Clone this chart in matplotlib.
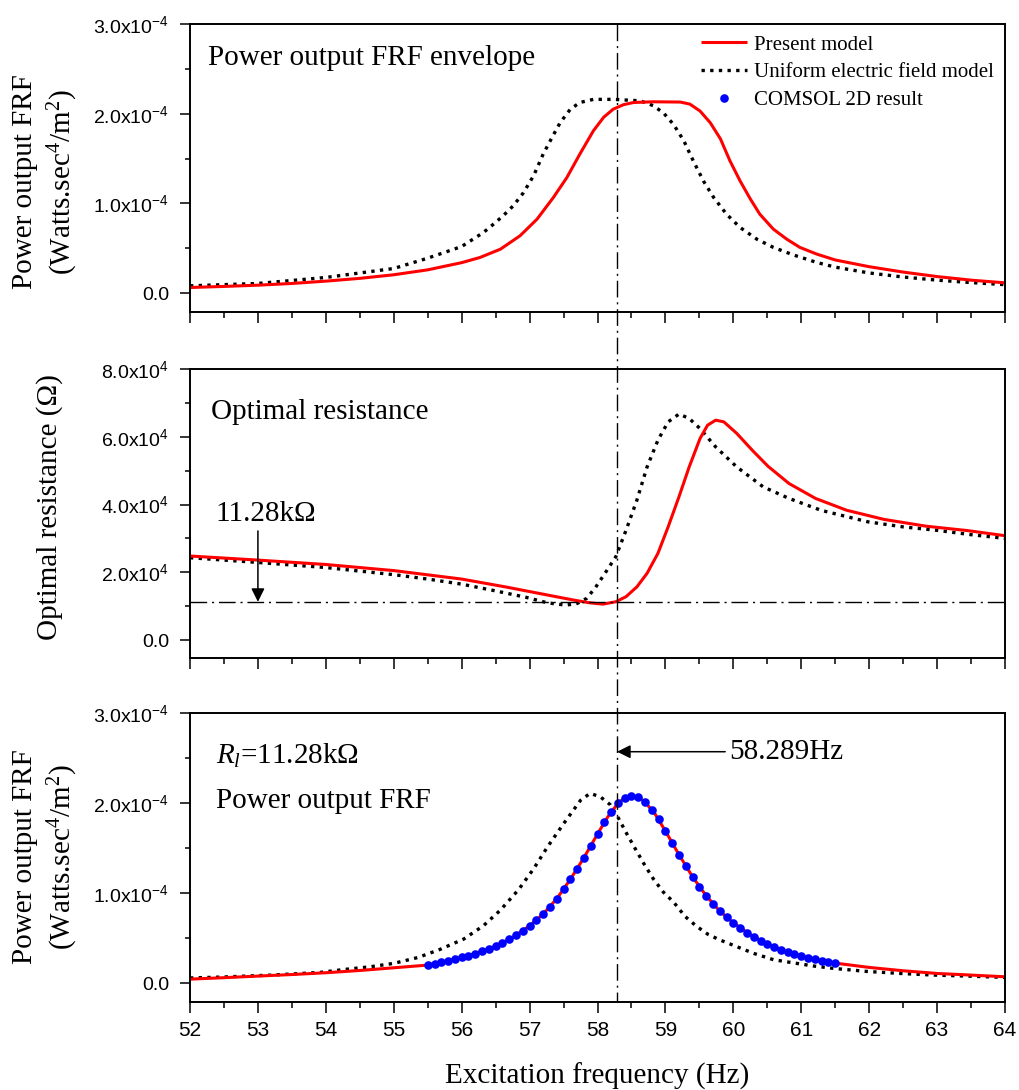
import matplotlib
matplotlib.use("Agg")
import matplotlib.pyplot as plt
import matplotlib.transforms as mtransforms
from matplotlib.lines import Line2D
from matplotlib.ticker import MultipleLocator, FuncFormatter
import numpy as np

plt.rcParams['font.family'] = ['Liberation Serif', 'DejaVu Serif']
plt.rcParams['mathtext.fontset'] = 'custom'
plt.rcParams['mathtext.rm'] = 'Liberation Serif'
plt.rcParams['mathtext.it'] = 'Liberation Serif:italic'
plt.rcParams['mathtext.default'] = 'regular'

# ---- data ----
# top: power output FRF envelope (x1e-4)
env_present_f = [52.0, 52.5, 53.0, 53.5, 54.0, 54.5, 55.0, 55.5, 56.0, 56.27, 56.57, 56.86,
                 57.11, 57.35, 57.55, 57.74, 57.94, 58.09, 58.23, 58.38, 58.53, 58.82, 59.22,
                 59.36, 59.51, 59.66, 59.81, 59.95, 60.1, 60.25, 60.39, 60.59, 60.79, 60.98,
                 61.23, 61.5, 62.0, 62.5, 63.0, 63.5, 64.0]
env_present_p = [0.063, 0.075, 0.089, 0.108, 0.134, 0.165, 0.205, 0.26, 0.34, 0.398, 0.49, 0.64,
                 0.825, 1.066, 1.29, 1.55, 1.81, 1.96, 2.05, 2.10, 2.125, 2.133, 2.13,
                 2.107, 2.03, 1.90, 1.72, 1.475, 1.25, 1.05, 0.88, 0.713, 0.60, 0.51,
                 0.435, 0.37, 0.295, 0.235, 0.185, 0.145, 0.115]
env_uniform_f = [52.0, 53.0, 54.0, 55.0, 55.5, 56.0, 56.32, 56.47, 56.61, 56.76, 56.91, 57.06,
                 57.2, 57.33, 57.45, 57.6, 57.74, 57.94, 58.23, 58.63, 58.82, 58.97, 59.12,
                 59.27, 59.41, 59.56, 59.71, 59.9, 60.1, 60.35, 60.59, 60.88, 61.23, 61.5,
                 62.0, 62.5, 63.0, 63.5, 64.0]
env_uniform_p = [0.082, 0.108, 0.175, 0.275, 0.39, 0.52, 0.676, 0.77, 0.862, 0.974, 1.12, 1.31,
                 1.55, 1.735, 1.90, 2.05, 2.125, 2.16, 2.16, 2.144, 2.09, 2.01, 1.88,
                 1.70, 1.475, 1.25, 1.067, 0.88, 0.732, 0.60, 0.51, 0.427, 0.342, 0.29,
                 0.225, 0.18, 0.145, 0.118, 0.095]

# middle: optimal resistance (x1e4 ohm)
ropt_present_f = [52.0, 53.0, 54.0, 55.0, 56.0, 56.64, 57.26, 57.65, 57.88, 58.08, 58.27, 58.42,
                  58.58, 58.73, 58.89, 59.04, 59.2, 59.35, 59.51, 59.62, 59.74, 59.86, 60.05,
                  60.28, 60.51, 60.82, 61.21, 61.67, 62.22, 62.84, 63.45, 64.0]
ropt_present_r = [2.48, 2.36, 2.23, 2.05, 1.80, 1.57, 1.33, 1.18, 1.10, 1.06, 1.13, 1.28,
                  1.57, 1.97, 2.56, 3.34, 4.23, 5.11, 5.95, 6.34, 6.49, 6.44, 6.10,
                  5.60, 5.13, 4.62, 4.18, 3.83, 3.56, 3.36, 3.23, 3.08]
ropt_uniform_f = [52.0, 53.0, 54.0, 55.0, 55.5, 56.0, 56.5, 56.95, 57.26, 57.53, 57.7, 57.84,
                  57.97, 58.11, 58.27, 58.42, 58.58, 58.73, 58.89, 59.04, 59.2, 59.35, 59.51,
                  59.74, 60.05, 60.44, 60.82, 61.29, 61.98, 62.5, 62.99, 63.5, 64.0]
ropt_uniform_r = [2.43, 2.29, 2.14, 1.93, 1.80, 1.65, 1.45, 1.26, 1.10, 1.03, 1.08, 1.23,
                  1.55, 1.97, 2.46, 3.24, 4.13, 5.11, 5.90, 6.44, 6.67, 6.54, 6.24,
                  5.70, 5.11, 4.52, 4.18, 3.83, 3.49, 3.34, 3.24, 3.11, 3.0]
r_load = 1.128  # x1e4 ohm
f_match = 58.289

# bottom: power output FRF at R_l = 11.28 kOhm (x1e-4)
frf_present_f = [52.0, 52.5, 53.0, 53.5, 54.0, 54.5, 55.0, 55.5, 55.75, 56.0, 56.25, 56.5,
                 56.75, 57.0, 57.2, 57.4, 57.6, 57.8, 58.0, 58.15, 58.3, 58.4, 58.5, 58.6,
                 58.7, 58.85, 59.0, 59.2, 59.4, 59.6, 59.8, 60.0, 60.25, 60.5, 60.75, 61.0,
                 61.25, 61.5, 62.0, 62.5, 63.0, 63.5, 64.0]
frf_present_p = [0.044, 0.06, 0.078, 0.095, 0.115, 0.14, 0.17, 0.20, 0.24, 0.286, 0.34, 0.409,
                 0.507, 0.637, 0.767, 0.937, 1.152, 1.393, 1.656, 1.845, 1.996, 2.056, 2.08, 2.065,
                 2.011, 1.875, 1.689, 1.426, 1.181, 0.970, 0.800, 0.670, 0.537, 0.433, 0.357, 0.300,
                 0.254, 0.222, 0.174, 0.137, 0.107, 0.089, 0.07]
frf_uniform_f = [52.0, 52.47, 52.83, 53.2, 53.57, 53.92, 54.28, 54.65, 55.0, 55.36, 55.68, 56.03,
                 56.32, 56.57, 56.84, 57.06, 57.27, 57.5, 57.75, 57.89, 58.04, 58.19, 58.31,
                 58.43, 58.55, 58.68, 58.82, 58.97, 59.12, 59.29, 59.46, 59.63, 59.8, 60.0,
                 60.3, 60.59, 60.84, 61.18, 61.48, 61.96, 62.46, 62.95, 63.44, 64.0]
frf_uniform_p = [0.057, 0.067, 0.078, 0.089, 0.104, 0.119, 0.152, 0.181, 0.219, 0.285, 0.374, 0.489,
                 0.637, 0.81, 1.04, 1.27, 1.52, 1.77, 2.03, 2.107, 2.07, 1.98, 1.83,
                 1.66, 1.50, 1.33, 1.16, 1.01, 0.90, 0.74, 0.63, 0.54, 0.48, 0.42,
                 0.33, 0.26, 0.23, 0.19, 0.163, 0.13, 0.107, 0.089, 0.078, 0.063]
comsol_f = [55.5, 55.6, 55.7, 55.8, 55.9, 56.0, 56.1, 56.2, 56.3, 56.4, 56.5, 56.6, 56.7, 56.8,
            56.9, 57.0, 57.1, 57.2, 57.3, 57.4, 57.5, 57.6, 57.7, 57.8, 57.9, 58.0, 58.1, 58.2,
            58.3, 58.4, 58.5, 58.6, 58.7, 58.8, 58.9, 59.0, 59.1, 59.2, 59.3, 59.4, 59.5, 59.6,
            59.7, 59.8, 59.9, 60.0, 60.1, 60.2, 60.3, 60.4, 60.5, 60.6, 60.7, 60.8, 60.9, 61.0,
            61.1, 61.2, 61.3, 61.4, 61.5]
comsol_p = [0.200, 0.215, 0.231, 0.249, 0.267, 0.286, 0.306, 0.328, 0.353, 0.380, 0.409, 0.443,
            0.485, 0.530, 0.581, 0.637, 0.700, 0.767, 0.848, 0.937, 1.041, 1.152, 1.263, 1.393,
            1.522, 1.656, 1.785, 1.900, 1.996, 2.056, 2.078, 2.063, 2.011, 1.926, 1.819, 1.689,
            1.559, 1.426, 1.300, 1.181, 1.070, 0.970, 0.881, 0.800, 0.730, 0.670, 0.611, 0.559,
            0.515, 0.470, 0.433, 0.400, 0.370, 0.344, 0.322, 0.300, 0.281, 0.263, 0.244, 0.233,
            0.222]

W, H = 1019, 1090
fig = plt.figure(figsize=(W / 100, H / 100), dpi=100)


def px_axes(top, bottom, left=190, right=1005):
    return fig.add_axes([left / W, 1 - bottom / H, (right - left) / W, (bottom - top) / H])


ax1 = px_axes(24, 312)
ax2 = px_axes(369, 658)
ax3 = px_axes(713, 1002)


def sci_fmt(exp):
    def f(v, pos):
        m = v / 10 ** exp
        if abs(m) < 1e-9:
            return '0.0'
        return f'{m:.1f}x10$^{{{exp}}}$'
    return FuncFormatter(f)


red = dict(color='#ff0000', lw=2.2, solid_capstyle='butt', solid_joinstyle='round')
dots = dict(color='black', lw=2.4, linestyle=(0, (1.0, 1.6)))
dashdot = dict(color='black', lw=1.0, linestyle=(0, (12, 3.5, 1.5, 3.5)))

e4 = 1e-4
ax1.plot(np.array(env_uniform_f), np.array(env_uniform_p) * e4, **dots)
ax1.plot(np.array(env_present_f), np.array(env_present_p) * e4, **red)

ax2.plot(np.array(ropt_uniform_f), np.array(ropt_uniform_r) * 1e4, **dots)
ax2.plot(np.array(ropt_present_f), np.array(ropt_present_r) * 1e4, **red)
ax2.axhline(r_load * 1e4, **dashdot)

ax3.plot(np.array(frf_uniform_f), np.array(frf_uniform_p) * e4, **dots)
ax3.plot(np.array(frf_present_f), np.array(frf_present_p) * e4, **red)
ax3.plot(np.array(comsol_f), np.array(comsol_p) * e4, 'o', color='#0000ff', ms=6.2,
         markeredgewidth=0, zorder=4)

for ax in (ax1, ax2, ax3):
    ax.set_xlim(52, 64)
    ax.xaxis.set_major_locator(MultipleLocator(1))
    ax.xaxis.set_minor_locator(MultipleLocator(0.5))
    for s in ax.spines.values():
        s.set_linewidth(1.4)
    ax.tick_params(axis='x', which='major', direction='out', length=8, width=1.1,
                   labelsize=15, pad=6, labelfontfamily='Liberation Sans')
    ax.tick_params(axis='x', which='minor', direction='out', length=4.3, width=1.1)
    ax.tick_params(axis='y', which='major', direction='out', length=7, width=1.1,
                   labelsize=14, pad=8, labelfontfamily='Liberation Sans')
    ax.tick_params(axis='y', which='minor', direction='out', length=3.5, width=1.1)

ax1.tick_params(axis='x', labelbottom=False)
ax2.tick_params(axis='x', labelbottom=False)

for ax in (ax1, ax3):
    ax.set_ylim(-0.21e-4, 3.0e-4)
    ax.yaxis.set_major_locator(MultipleLocator(1e-4))
    ax.yaxis.set_minor_locator(MultipleLocator(0.5e-4))
    ax.yaxis.set_major_formatter(sci_fmt(-4))
ax2.set_ylim(-0.53e4, 8.0e4)
ax2.yaxis.set_major_locator(MultipleLocator(2e4))
ax2.yaxis.set_minor_locator(MultipleLocator(1e4))
ax2.yaxis.set_major_formatter(sci_fmt(4))

# y labels
lab = dict(rotation=90, ha='center', va='center', fontsize=21, linespacing=1.3,
           multialignment='center')
fig.text(46 / W, 1 - 182 / H, 'Power output FRF\n(Watts.sec$^4$/m$^2$)', **lab)
fig.text(50 / W, 1 - 507 / H, 'Optimal resistance (\u03a9)', **lab)
fig.text(46 / W, 1 - 857 / H, 'Power output FRF\n(Watts.sec$^4$/m$^2$)', **lab)
ax3.set_xlabel('Excitation frequency (Hz)', fontsize=21, labelpad=16)

# panel texts
ax1.text(0.022, 0.858, 'Power output FRF envelope', transform=ax1.transAxes, fontsize=21,
         va='baseline')
ax2.text(0.026, 0.827, 'Optimal resistance', transform=ax2.transAxes, fontsize=21,
         va='baseline')
ax2.text(52.37, 3.51e4, '11.28k\u03a9', fontsize=21, va='baseline')
ax2.annotate('', xy=(53.0, r_load * 1e4), xytext=(53.0, 3.22e4),
             arrowprops=dict(arrowstyle='-|>', color='black', lw=1.1, mutation_scale=20,
                             shrinkA=0, shrinkB=0))
ax3.text(52.38, 2.44e-4, '$\\mathit{R}_{\\mathit{l}}$=11.28k\u03a9', fontsize=21, va='baseline')
ax3.text(52.38, 1.94e-4, 'Power output FRF', fontsize=21, va='baseline')
ax3.annotate('', xy=(f_match, 2.57e-4), xytext=(59.88, 2.57e-4),
             arrowprops=dict(arrowstyle='-|>', color='black', lw=1.1, mutation_scale=20,
                             shrinkA=0, shrinkB=0))
ax3.text(59.94, 2.57e-4, '58.289Hz', fontsize=21, va='center')

# vertical marker through all panels
trans = mtransforms.blended_transform_factory(ax3.transData, fig.transFigure)
fig.add_artist(Line2D([f_match, f_match], [1 - 24 / H, 1 - 1002 / H], transform=trans,
                      **dashdot))

# legend
handles = [Line2D([], [], **red),
           Line2D([], [], **dots),
           Line2D([], [], marker='o', color='#0000ff', ms=6.2, markeredgewidth=0, lw=0)]
ax1.legend(handles, ['Present model', 'Uniform electric field model', 'COMSOL 2D result'],
           loc='upper left', bbox_to_anchor=(0.627, 0.962), frameon=False, fontsize=15,
           handlelength=2.2, handletextpad=0.35, labelspacing=0.4, borderpad=0,
           borderaxespad=0)

fig.savefig('out.png', dpi=100)
